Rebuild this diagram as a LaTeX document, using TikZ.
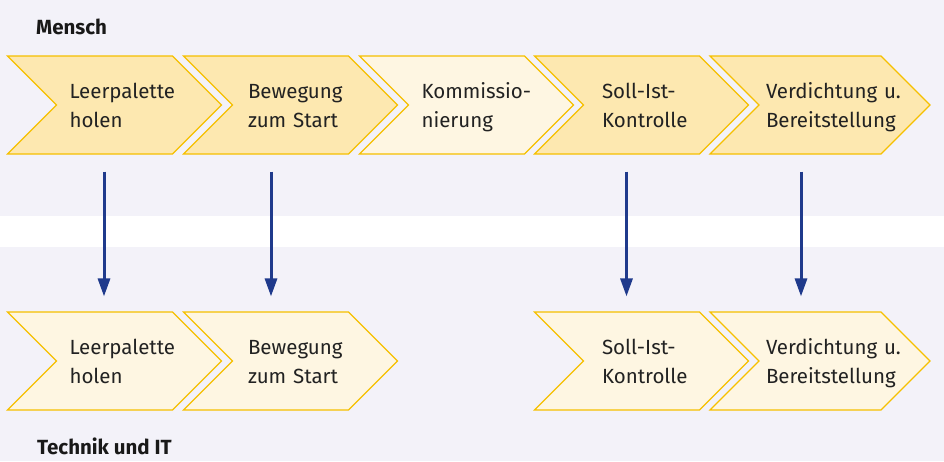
\documentclass[tikz,border=0pt]{standalone}
\usepackage{fontspec}
\setmainfont{Fira Sans}
\usetikzlibrary{shapes.symbols,arrows.meta}

\definecolor{bgviolet}{RGB}{243,242,249}
\definecolor{stepdark}{RGB}{253,232,176}
\definecolor{steplight}{RGB}{254,246,226}
\definecolor{stepline}{RGB}{246,192,0}
\definecolor{flowblue}{RGB}{31,58,140}
\definecolor{txtgray}{RGB}{34,34,34}

\newcommand{\lstrut}{\rule[-7pt]{0pt}{29pt}}
\newcommand{\twolines}[2]{\mbox{#1}\lstrut\\\mbox{#2}\lstrut}

\tikzset{
  chevron/.style={signal, signal from=west, signal to=east, signal pointer angle=90,
    draw=stepline, line width=1.1pt, minimum width=214pt, minimum height=98pt,
    inner sep=0pt, text width=90pt, align=left, text=txtgray,
    font=\fontsize{20.5}{29}\selectfont},
  title/.style={anchor=base west, inner sep=0pt, text=black!90,
    font=\bfseries\fontsize{20.5}{24}\selectfont},
  flow/.style={flowblue, line width=3pt, -{Triangle[length=18pt,width=12pt]},
    shorten <=17pt, shorten >=15pt}
}

\begin{document}
\begin{tikzpicture}[x=1pt, y=-1pt]

\fill[bgviolet] (0,0) rectangle (944,461);
\fill[white] (0,216) rectangle (944,247);
\useasboundingbox (0,0) rectangle (944,461);

\node[title] (mensch) at (36,34) {Mensch};
\node[title] (technik) at (37,454) {Technik und IT};

% Mensch
\node[chevron, fill=stepdark] (t1) at (114.5,105) {\twolines{Leerpalette}{holen}};
\node[chevron, fill=stepdark, text width=85pt] (t2) at (290.5,105) {\twolines{Bewegung}{zum Start}};
\node[chevron, fill=steplight] (t3) at (466.5,105) {\twolines{Kommissio-}{nierung}};
\node[chevron, fill=stepdark, text width=79pt] (t4) at (641.5,105) {\twolines{Soll-Ist-}{Kontrolle}};
\node[chevron, fill=stepdark, text width=108pt, minimum width=220pt] (t5) at (820,105) {\twolines{Verdichtung u.}{Bereitstellung}};

% Technik und IT
\node[chevron, fill=steplight] (b1) at (114.5,361) {\twolines{Leerpalette}{holen}};
\node[chevron, fill=steplight, text width=85pt] (b2) at (290.5,361) {\twolines{Bewegung}{zum Start}};
\node[chevron, fill=steplight, text width=79pt] (b4) at (641.5,361) {\twolines{Soll-Ist-}{Kontrolle}};
\node[chevron, fill=steplight, text width=108pt, minimum width=220pt] (b5) at (820,361) {\twolines{Verdichtung u.}{Bereitstellung}};

\foreach \i/\dx in {1/-10.5,2/-19.5,4/-15,5/-19}
  \draw[flow] ([xshift=\dx pt]t\i.south) -- ([xshift=\dx pt]b\i.north);

\end{tikzpicture}
\end{document}
